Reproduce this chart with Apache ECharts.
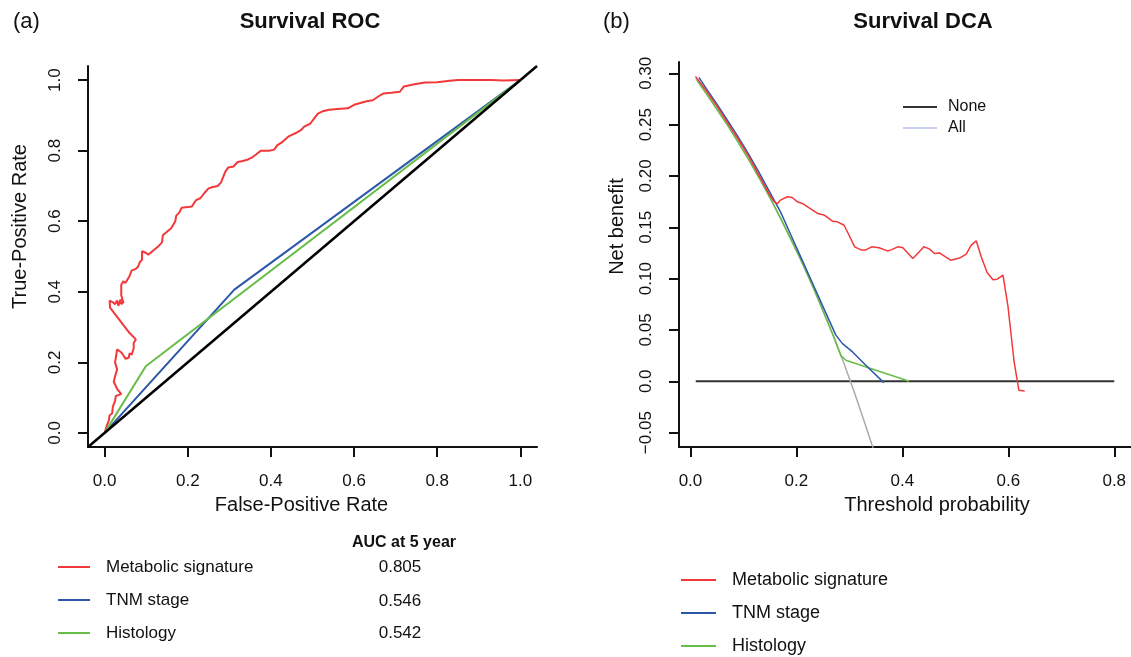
<!DOCTYPE html>
<html><head><meta charset="utf-8">
<script src="https://cdn.jsdelivr.net/npm/echarts@6/dist/echarts.min.js"></script>
<style>html,body{margin:0;padding:0;background:#fff}#c{width:1131px;height:657px}</style>
</head><body><div id="c"></div>
<script>
const FONT = "'Liberation Sans', Arial, Helvetica, sans-serif";

// ---- tick labels ----
const rocTicks = [0, 0.2, 0.4, 0.6, 0.8, 1.0];
const dcaXTicks = [0, 0.2, 0.4, 0.6, 0.8];
const dcaYTicks = [-0.05, 0, 0.05, 0.1, 0.15, 0.2, 0.25, 0.3];
const dcaYLabels = ['\u22120.05', '0.0', '0.05', '0.10', '0.15', '0.20', '0.25', '0.30'];

// ---- legend / table ----
const modelNames = ['Metabolic signature', 'TNM stage', 'Histology'];
const aucValues = ['0.805', '0.546', '0.542'];

// ---- ROC curves [FPR, TPR] ----
const rocMetabolic = [[0,0],[0.005,0.02],[0.01,0.035],[0.012,0.05],[0.018,0.055],[0.02,0.075],[0.025,0.09],[0.027,0.105],[0.04,0.11],[0.043,0.115],[0.03,0.125],[0.022,0.145],[0.025,0.16],[0.03,0.18],[0.025,0.2],[0.028,0.22],[0.03,0.237],[0.04,0.228],[0.045,0.22],[0.05,0.21],[0.058,0.213],[0.06,0.225],[0.065,0.222],[0.07,0.24],[0.072,0.245],[0.07,0.255],[0.075,0.265],[0.072,0.27],[0.06,0.283],[0.013,0.355],[0.012,0.375],[0.02,0.37],[0.025,0.365],[0.03,0.375],[0.033,0.36],[0.038,0.378],[0.04,0.365],[0.045,0.37],[0.04,0.39],[0.04,0.42],[0.045,0.43],[0.05,0.425],[0.055,0.435],[0.06,0.445],[0.065,0.46],[0.075,0.465],[0.08,0.47],[0.085,0.485],[0.09,0.49],[0.09,0.515],[0.1,0.51],[0.105,0.505],[0.11,0.51],[0.12,0.52],[0.13,0.53],[0.138,0.54],[0.14,0.56],[0.15,0.57],[0.16,0.58],[0.165,0.59],[0.17,0.6],[0.172,0.615],[0.18,0.625],[0.185,0.638],[0.2,0.64],[0.21,0.642],[0.22,0.66],[0.23,0.665],[0.24,0.68],[0.25,0.693],[0.26,0.697],[0.272,0.7],[0.28,0.71],[0.285,0.725],[0.29,0.74],[0.297,0.752],[0.31,0.755],[0.32,0.768],[0.33,0.77],[0.345,0.775],[0.356,0.782],[0.365,0.79],[0.376,0.8],[0.395,0.8],[0.408,0.803],[0.415,0.815],[0.428,0.825],[0.44,0.838],[0.445,0.842],[0.46,0.85],[0.472,0.858],[0.48,0.868],[0.495,0.877],[0.505,0.893],[0.513,0.905],[0.525,0.912],[0.54,0.916],[0.56,0.918],[0.585,0.92],[0.6,0.93],[0.615,0.935],[0.63,0.94],[0.645,0.943],[0.66,0.955],[0.67,0.962],[0.69,0.964],[0.71,0.967],[0.72,0.982],[0.745,0.988],[0.77,0.993],[0.8,0.994],[0.83,0.998],[0.85,1.0],[0.93,1.0],[0.96,0.999],[1,1]];
const rocTNM = [[0,0],[0.312,0.406],[1,1]];
const rocHistology = [[0,0],[0.099,0.189],[1,1]];
const rocChance = [[-0.04,-0.04],[1.04,1.04]];

// ---- DCA curves [threshold, net benefit] ----
const dcaNone = [[0.01,0],[0.8,0]];
const dcaAll = [[0.01,0.295],[0.03,0.280],[0.05,0.265],[0.07,0.2495],[0.09,0.233],[0.11,0.216],[0.13,0.198],[0.15,0.179],[0.17,0.159],[0.19,0.138],[0.21,0.1165],[0.23,0.0935],[0.25,0.069],[0.27,0.044],[0.29,0.017],[0.31,-0.0116],[0.33,-0.042],[0.346,-0.067]];
const dcaMetabolic = [[0.0095,0.297],[0.03,0.283],[0.05,0.268],[0.07,0.252],[0.09,0.236],[0.11,0.219],[0.13,0.2],[0.15,0.181],[0.158,0.175],[0.164,0.173],[0.17,0.1765],[0.183,0.1797],[0.192,0.179],[0.202,0.1748],[0.212,0.173],[0.227,0.168],[0.24,0.1635],[0.252,0.162],[0.268,0.156],[0.2777,0.1553],[0.29,0.152],[0.2997,0.142],[0.31,0.131],[0.322,0.128],[0.331,0.128],[0.342,0.131],[0.356,0.130],[0.372,0.127],[0.379,0.128],[0.391,0.131],[0.401,0.130],[0.4196,0.1196],[0.429,0.1245],[0.4405,0.131],[0.451,0.129],[0.4606,0.1245],[0.47,0.125],[0.491,0.118],[0.508,0.120],[0.5205,0.1238],[0.53,0.1326],[0.5395,0.1368],[0.549,0.121],[0.56,0.106],[0.571,0.099],[0.579,0.0995],[0.59,0.1033],[0.5995,0.0724],[0.611,0.0188],[0.62,-0.0088],[0.631,-0.0095]];
const dcaTNM = [[0.016,0.296],[0.03,0.285],[0.05,0.27],[0.07,0.254],[0.09,0.238],[0.11,0.221],[0.13,0.203],[0.15,0.184],[0.17,0.165],[0.19,0.142],[0.21,0.119],[0.23,0.096],[0.25,0.073],[0.2745,0.045],[0.287,0.0367],[0.306,0.0286],[0.331,0.0156],[0.365,-0.0013]];
const dcaHistology = [[0.0127,0.293],[0.03,0.2805],[0.05,0.265],[0.07,0.2495],[0.09,0.233],[0.11,0.216],[0.13,0.198],[0.15,0.179],[0.17,0.159],[0.19,0.138],[0.21,0.1165],[0.23,0.0935],[0.25,0.069],[0.27,0.044],[0.284,0.025],[0.2934,0.0205],[0.413,0.0]];

const RED = '#f2383a', BLUE = '#2d57aa', GREEN = '#68bd48';

function axisCommon(ticks, fmt, rotate) {
  return {
    type: 'value',
    axisLine: { show: true, onZero: false, lineStyle: { color: '#111', width: 2 } },
    axisTick: { show: true, length: 10, customValues: ticks, lineStyle: { color: '#111', width: 2 } },
    axisLabel: { customValues: ticks, formatter: fmt, margin: rotate ? 24 : 26, fontSize: 17, color: '#111', fontFamily: FONT, rotate: rotate || 0 },
    splitLine: { show: false },
    nameLocation: 'middle'
  };
}
const fmt1 = v => (Math.abs(v) < 1e-9 ? 0 : v).toFixed(1);
const fmtDcaY = v => { let best = 0; dcaYTicks.forEach((t, i) => { if (Math.abs(t - v) < Math.abs(dcaYTicks[best] - v)) best = i; }); return dcaYLabels[best]; };

const chart = echarts.init(document.getElementById('c'), null, { renderer: 'canvas' });

const lineSeries = (name, data, color, width, xi) => ({
  name, type: 'line', data, xAxisIndex: xi, yAxisIndex: xi, showSymbol: false, symbol: 'none',
  color, lineStyle: { color, width }, itemStyle: { color }, animation: false, silent: true, z: 3
});

chart.setOption({
  animation: false,
  backgroundColor: '#fff',
  textStyle: { fontFamily: FONT },
  grid: [
    { left: 88, top: 66, width: 449, height: 381 },
    { left: 679, top: 62, width: 452, height: 385 }
  ],
  xAxis: [
    Object.assign(axisCommon(rocTicks, fmt1), { gridIndex: 0, min: -0.04, max: 1.04, name: 'False-Positive Rate', nameGap: 48,
      nameTextStyle: { fontSize: 20, color: '#111', fontFamily: FONT, padding: [0, 22, 0, 0] } }),
    Object.assign(axisCommon(dcaXTicks, fmt1), { gridIndex: 1, min: -0.0216, max: 0.8316, name: 'Threshold probability', nameGap: 48,
      nameTextStyle: { fontSize: 20, color: '#111', fontFamily: FONT, padding: [0, 0, 0, 64] } })
  ],
  yAxis: [
    Object.assign(axisCommon(rocTicks, fmt1, 90), { gridIndex: 0, min: -0.04, max: 1.04, name: 'True-Positive Rate', nameGap: 58,
      nameTextStyle: { fontSize: 20, color: '#111', fontFamily: FONT, padding: [0, 0, 0, 60] } }),
    Object.assign(axisCommon(dcaYTicks, fmtDcaY, 90), { gridIndex: 1, min: -0.064, max: 0.311, name: 'Net benefit', nameGap: 52,
      nameTextStyle: { fontSize: 20, color: '#111', fontFamily: FONT, padding: [0, 0, 0, 56] } })
  ],
  legend: [
    { data: modelNames, left: 58, top: 557, orient: 'vertical', icon: 'rect', itemWidth: 32, itemHeight: 2, itemGap: 13, padding: 0,
      selectedMode: false, textStyle: { fontSize: 17, lineHeight: 20, color: '#111', fontFamily: FONT, padding: [0, 0, 0, 11] } },
    { data: modelNames, left: 681, top: 570, orient: 'vertical', icon: 'rect', itemWidth: 35, itemHeight: 2, itemGap: 13, padding: 0,
      selectedMode: false, textStyle: { fontSize: 18, lineHeight: 20, color: '#111', fontFamily: FONT, padding: [0, 0, 0, 11] } },
    { data: [{ name: 'None' }, { name: 'All', itemStyle: { color: '#c9d0ee' } }], left: 903, top: 97, orient: 'vertical', icon: 'rect',
      itemWidth: 34, itemHeight: 2, itemGap: 1, padding: 0, selectedMode: false,
      textStyle: { fontSize: 16, lineHeight: 20, color: '#111', fontFamily: FONT, padding: [0, 0, 0, 6] } }
  ],
  graphic: [
    { type: 'text', x: 13, y: 22, style: { text: '(a)', fontSize: 22, fontFamily: FONT, fill: '#111', textVerticalAlign: 'middle' } },
    { type: 'text', x: 310, y: 22, style: { text: 'Survival ROC', fontSize: 22, fontWeight: 'bold', fontFamily: FONT, fill: '#111', textAlign: 'center', textVerticalAlign: 'middle' } },
    { type: 'text', x: 603, y: 22, style: { text: '(b)', fontSize: 22, fontFamily: FONT, fill: '#111', textVerticalAlign: 'middle' } },
    { type: 'text', x: 923, y: 22, style: { text: 'Survival DCA', fontSize: 22, fontWeight: 'bold', fontFamily: FONT, fill: '#111', textAlign: 'center', textVerticalAlign: 'middle' } },
    { type: 'text', x: 404, y: 543, style: { text: 'AUC at 5 year', fontSize: 16, fontWeight: 'bold', fontFamily: FONT, fill: '#111', textAlign: 'center', textVerticalAlign: 'middle' } }
  ].concat(aucValues.map((v, i) => ({ type: 'text', x: 400, y: [567, 601, 633][i],
    style: { text: v, fontSize: 17, fontFamily: FONT, fill: '#111', textAlign: 'center', textVerticalAlign: 'middle' } }))),
  series: [
    lineSeries('Metabolic signature', rocMetabolic, RED, 2, 0),
    lineSeries('TNM stage', rocTNM, BLUE, 2, 0),
    lineSeries('Histology', rocHistology, GREEN, 2, 0),
    lineSeries('Chance', rocChance, '#000', 2.5, 0),
    lineSeries('None', dcaNone, '#333', 2, 1),
    lineSeries('All', dcaAll, '#ababab', 1.5, 1),
    lineSeries('Histology', dcaHistology, GREEN, 1.5, 1),
    lineSeries('TNM stage', dcaTNM, BLUE, 1.5, 1),
    lineSeries('Metabolic signature', dcaMetabolic, RED, 1.5, 1)
  ]
});
</script></body></html>
